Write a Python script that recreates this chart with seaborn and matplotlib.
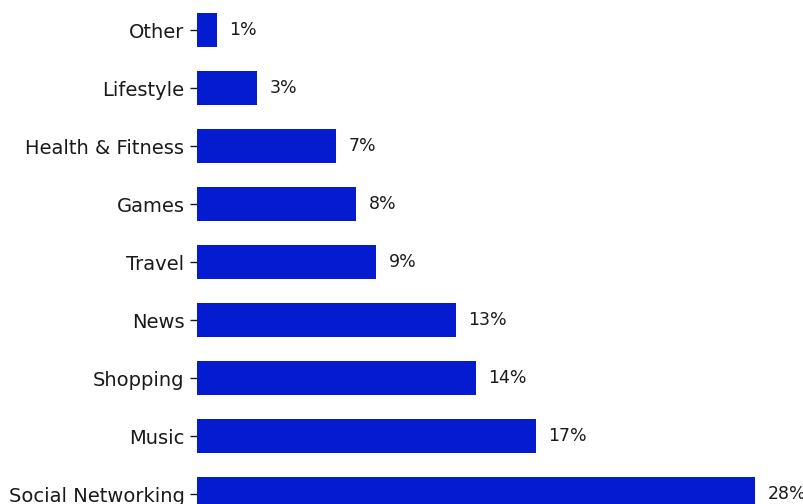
import matplotlib
matplotlib.use("Agg")
import matplotlib.pyplot as plt
import seaborn as sns
import pandas as pd

categories = ["Other", "Lifestyle", "Health & Fitness", "Games", "Travel",
              "News", "Shopping", "Music", "Social Networking"]
values = [1, 3, 7, 8, 9, 13, 14, 17, 28]
value_labels = [f"{v}%" for v in values]

sns.set_theme(style="white")
plt.rcParams["font.family"] = ["DejaVu Sans"]

df = pd.DataFrame({"category": categories, "share": values})

fig = plt.figure(figsize=(8.04, 5.04), dpi=100)
ax = fig.add_axes([0.245, -0.0377, 0.756, 1.0357])

sns.barplot(data=df, x="share", y="category", orient="h", color="#041bcf",
            saturation=1, width=0.6, linewidth=0, ax=ax)

ax.set_xlim(0, 30.5)
ax.set_ylim(8.5, -0.5)
ax.set_xlabel("")
ax.set_ylabel("")
ax.set_xticks([])
sns.despine(ax=ax, left=True, bottom=True)
ax.tick_params(axis="y", which="major", left=True, length=5, width=1,
               color="#1a1a1a", labelsize=14, labelcolor="#1a1a1a", pad=4)

ax.bar_label(ax.containers[0], labels=value_labels, padding=9,
             fontsize=12.5, color="#1a1a1a")

fig.savefig("out.png", dpi=100)
